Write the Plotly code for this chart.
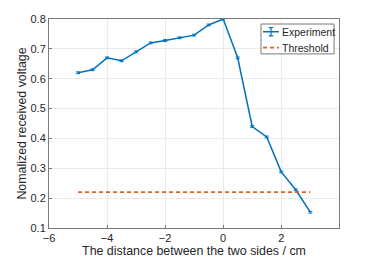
import plotly.graph_objects as go

distance = [-5, -4.5, -4, -3.5, -3, -2.5, -2, -1.5, -1, -0.5, 0, 0.5, 1, 1.5, 2, 2.5, 3]
voltage = [0.62, 0.63, 0.67, 0.66, 0.69, 0.72, 0.728, 0.737, 0.746, 0.78, 0.80, 0.67, 0.44, 0.405, 0.288, 0.228, 0.153]
errors = [0.003] * len(distance)
threshold_x = [-5, 3]
threshold_y = [0.22, 0.22]
series_names = ["Experiment", "Threshold"]
x_ticks = [-6, -4, -2, 0, 2]
y_ticks = [0.1, 0.2, 0.3, 0.4, 0.5, 0.6, 0.7, 0.8]

blue = "#0072BD"
orange = "#E0622A"
font = "Liberation Sans, Arial, sans-serif"
txt = "#262626"
dash_style = "4px,3px"

fig = go.Figure()
fig.add_trace(go.Scatter(
    x=distance, y=voltage, mode="lines", name=series_names[0],
    line=dict(color=blue, width=1.5),
    error_y=dict(type="data", array=errors, visible=True, color=blue, thickness=1, width=2),
    showlegend=False,
))
fig.add_trace(go.Scatter(
    x=threshold_x, y=threshold_y, mode="lines", name=series_names[1],
    line=dict(color=orange, width=1.6, dash=dash_style),
    showlegend=False,
))

axis_common = dict(
    showgrid=True, gridcolor="#ebebeb", gridwidth=1,
    showline=True, linecolor="#7a7a7a", linewidth=1, mirror=True,
    ticks="inside", ticklen=3, tickcolor="#7a7a7a",
    tickfont=dict(family=font, size=11, color=txt),
    zeroline=False, automargin=False,
)

# page has an 8px body margin, so the figure is offset; margins compensate
fig.update_layout(
    width=374, height=261,
    margin=dict(l=41, r=43, t=11, b=41, autoexpand=False),
    paper_bgcolor="white", plot_bgcolor="white",
    font=dict(family=font, size=11, color=txt),
    xaxis=dict(range=[-6, 3.99], tickvals=x_ticks,
               title=dict(text="The distance between the two sides / cm", standoff=3,
                          font=dict(family=font, size=12.4, color=txt)),
               **axis_common),
    yaxis=dict(range=[0.1, 0.8], tickvals=y_ticks,
               ticktext=[f"{v:.1f}" for v in y_ticks],
               title=dict(text="Nomalized received voltage", standoff=1,
                          font=dict(family=font, size=12.4, color=txt)),
               **axis_common),
    showlegend=False,
)

# Compact MATLAB-style legend box (paper coordinates)
lx0, lx1, ly0, ly1 = 0.731, 0.983, 0.833, 0.976
fig.add_shape(type="rect", xref="paper", yref="paper", x0=lx0, x1=lx1, y0=ly0, y1=ly1,
              line=dict(color="#7a7a7a", width=1), fillcolor="white", layer="above")
row_y = [0.939, 0.863]
sx0, sx1 = 0.738, 0.793
# Experiment sample: line with error-bar glyph
fig.add_shape(type="line", xref="paper", yref="paper", x0=sx0, x1=sx1, y0=row_y[0], y1=row_y[0],
              line=dict(color=blue, width=1.5), layer="above")
sxm = (sx0 + sx1) / 2
fig.add_shape(type="line", xref="paper", yref="paper", x0=sxm, x1=sxm, y0=row_y[0] - 0.02, y1=row_y[0] + 0.02,
              line=dict(color=blue, width=1.2), layer="above")
for dy in (-0.02, 0.02):
    fig.add_shape(type="line", xref="paper", yref="paper", x0=sxm - 0.008, x1=sxm + 0.008,
                  y0=row_y[0] + dy, y1=row_y[0] + dy, line=dict(color=blue, width=1.2), layer="above")
# Threshold sample
fig.add_shape(type="line", xref="paper", yref="paper", x0=sx0, x1=sx1, y0=row_y[1], y1=row_y[1],
              line=dict(color=orange, width=1.6, dash=dash_style), layer="above")
for name, yy in zip(series_names, row_y):
    fig.add_annotation(xref="paper", yref="paper", x=0.795, y=yy, text=name, showarrow=False,
                       xanchor="left", yanchor="middle", font=dict(family=font, size=10.5, color=txt))

fig.write_html("out.html")
